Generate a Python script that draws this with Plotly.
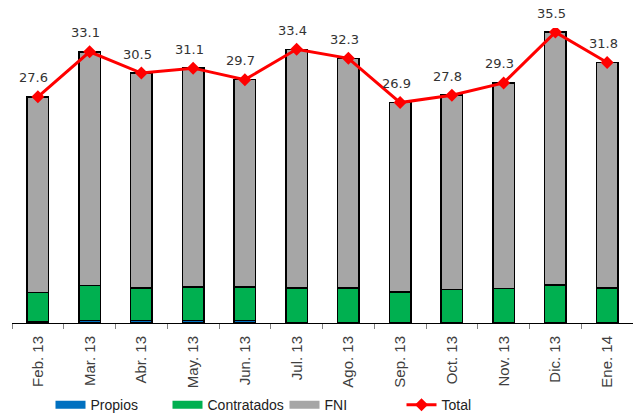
import plotly.graph_objects as go

months = ['Feb. 13', 'Mar. 13', 'Abr. 13', 'May. 13', 'Jun. 13', 'Jul. 13',
          'Ago. 13', 'Sep. 13', 'Oct. 13', 'Nov. 13', 'Dic. 13', 'Ene. 14']
total = [27.6, 33.1, 30.5, 31.1, 29.7, 33.4, 32.3, 26.9, 27.8, 29.3, 35.5, 31.8]
propios = [0.1, 0.3, 0.3, 0.3, 0.3, 0.0, 0.0, 0.0, 0.0, 0.0, 0.0, 0.0]
contratados = [3.6, 4.25, 3.95, 4.1, 4.1, 4.25, 4.27, 3.8, 4.07, 4.19, 4.64, 4.27]
fni = [round(t - p - c, 2) for t, p, c in zip(total, propios, contratados)]

series = [('Propios', propios, '#0070C0'),
          ('Contratados', contratados, '#00B050'),
          ('FNI', fni, '#A6A6A6')]

fig = go.Figure()
for name, vals, col in series:
    fig.add_trace(go.Bar(x=months, y=vals, name=name, showlegend=False, legendgroup=name,
                         marker=dict(color=col, line=dict(color='black', width=1.5))))
    # wide legend key like the original
    fig.add_trace(go.Scatter(x=[None], y=[None], mode='lines', name=name, legendgroup=name,
                             line=dict(color=col, width=8)))

fig.add_trace(go.Scatter(x=months, y=total, name='Total', mode='lines+markers',
                         line=dict(color='#FF0000', width=3),
                         marker=dict(symbol='diamond', size=10, color='#FF0000')))

# value labels above the Total line
for m, v in zip(months, total):
    fig.add_annotation(x=m, y=v, text=f'{v:.1f}', showarrow=False, yshift=19, xshift=-4,
                       font=dict(family='DejaVu Sans', size=13, color='#333333'))

fig.update_layout(
    width=633, height=415,
    barmode='stack', bargap=0.58,
    plot_bgcolor='white', paper_bgcolor='white',
    margin=dict(l=12, r=0, t=28, b=92),
    font=dict(family='Liberation Sans', size=15, color='#404040'),
    showlegend=True,
    legend=dict(orientation='h', x=0.062, xanchor='left', yref='container', y=0.024, yanchor='middle',
                font=dict(family='Liberation Sans', size=14, color='#222222'),
                traceorder='normal', itemwidth=30, entrywidth=72),
)
fig.update_xaxes(type='category', range=[-0.5, 11.5], showline=True, linecolor='black', linewidth=1,
                 ticks='outside', tickson='boundaries', ticklen=5, tickcolor='#808080',
                 tickangle=-90, showgrid=False, automargin=False, ticklabelstandoff=6)
fig.update_yaxes(range=[0, 36], visible=False, showgrid=False, automargin=False)

fig.write_html("out.html", config={'displayModeBar': False},
               post_script="document.body.style.margin='0';")
